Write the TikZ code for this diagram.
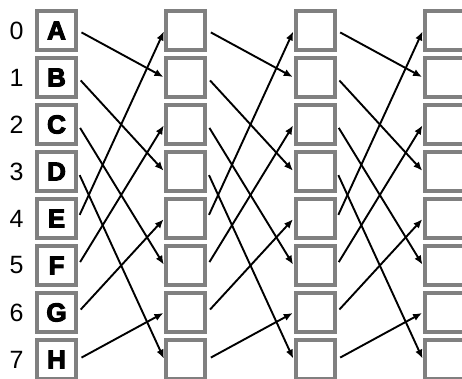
\documentclass[tikz,border=0pt]{standalone}
\usepackage{fontspec}
\setmainfont{Liberation Sans}
\newfontfamily\heavyfont[FakeBold=4]{Liberation Sans Bold}
\usepackage{xcolor}
\usetikzlibrary{arrows.meta}
\definecolor{cellgray}{HTML}{808080}
\newcommand{\heavyletter}[1]{{\color{black}\heavyfont #1}}

\begin{document}
\begin{tikzpicture}[x=1pt, y=-1pt,
  cell/.style={draw=cellgray, fill=white, line width=4pt, minimum size=39pt, inner sep=0pt,
    text=black, font=\fontsize{26}{26}\selectfont},
  idx/.style={font=\fontsize{25}{25}\selectfont},
  link/.style={-{Latex[length=9pt,width=7.5pt]}, line width=1.9pt, shorten <=4pt, shorten >=1pt}]
\useasboundingbox (0,0) rectangle (462,379);
% first column, with its letters and row numbers
\foreach \r/\l in {0/A,1/B,2/C,3/D,4/E,5/F,6/G,7/H} {
  \node[cell] (b0\r) at (56.5,{30.5+47*\r}) {\heavyletter{\l}};
  \node[idx] (n\r) at (16.5,{30.5+47*\r}) {\r};
}
% empty columns
\foreach \c in {1,2,3}
  \foreach \r in {0,...,7}
    \node[cell] (b\c\r) at ({56.5+129.33*\c},{30.5+47*\r}) {};
% shuffle links between neighbouring columns
\foreach \c [evaluate=\c as \n using int(\c+1)] in {0,1,2}
  \foreach \s/\t in {0/1,1/3,2/5,3/7,4/0,5/2,6/4,7/6}
    \draw[link] (b\c\s.east) -- (b\n\t.west);
\end{tikzpicture}
\end{document}
